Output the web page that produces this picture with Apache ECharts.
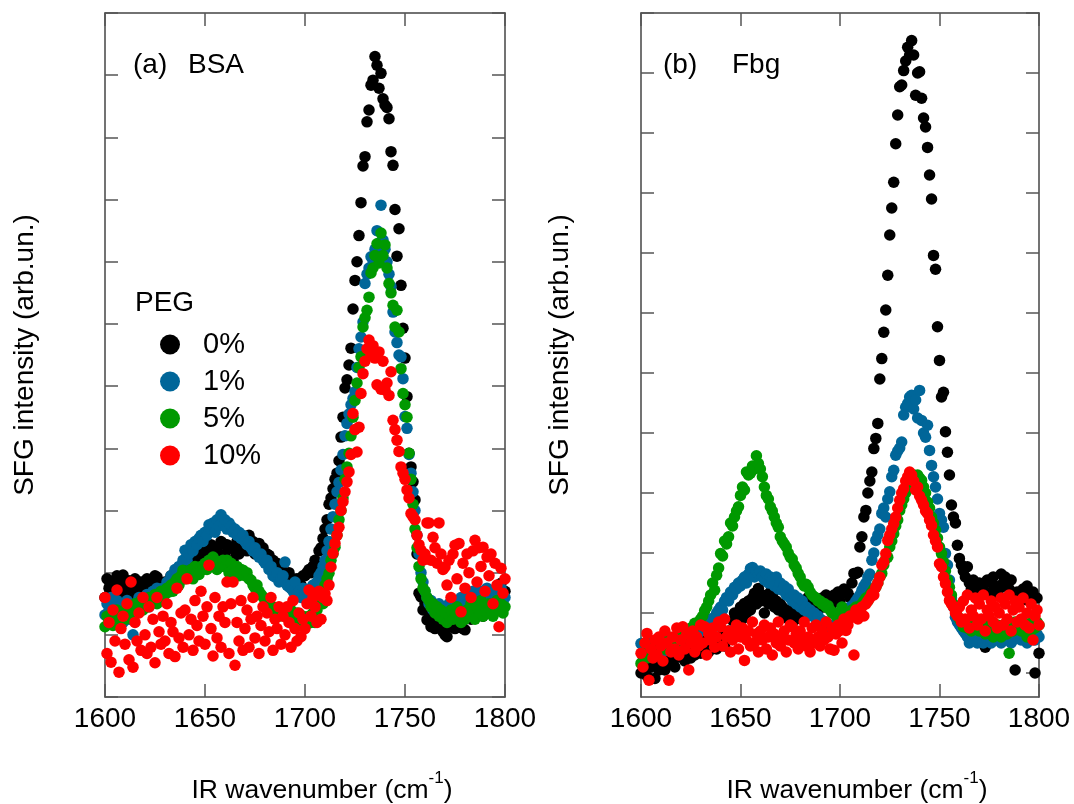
<!DOCTYPE html>
<html>
<head>
<meta charset="utf-8">
<script src="https://cdn.jsdelivr.net/npm/echarts@6/dist/echarts.min.js"></script>
<style>
  html, body { margin: 0; padding: 0; background: #fff; }
  #main { width: 1074px; height: 804px; }
</style>
</head>
<body>
<div id="main"></div>
<script>
(function (echarts) {
  'use strict';

  var FONT = '"Liberation Sans", Arial, Helvetica, sans-serif';

  // IR wavenumber (cm-1), one reading per cm-1
  var wavenumber = [
    1600, 1601, 1602, 1603, 1604, 1605, 1606, 1607, 1608, 1609,
    1610, 1611, 1612, 1613, 1614, 1615, 1616, 1617, 1618, 1619,
    1620, 1621, 1622, 1623, 1624, 1625, 1626, 1627, 1628, 1629,
    1630, 1631, 1632, 1633, 1634, 1635, 1636, 1637, 1638, 1639,
    1640, 1641, 1642, 1643, 1644, 1645, 1646, 1647, 1648, 1649,
    1650, 1651, 1652, 1653, 1654, 1655, 1656, 1657, 1658, 1659,
    1660, 1661, 1662, 1663, 1664, 1665, 1666, 1667, 1668, 1669,
    1670, 1671, 1672, 1673, 1674, 1675, 1676, 1677, 1678, 1679,
    1680, 1681, 1682, 1683, 1684, 1685, 1686, 1687, 1688, 1689,
    1690, 1691, 1692, 1693, 1694, 1695, 1696, 1697, 1698, 1699,
    1700, 1701, 1702, 1703, 1704, 1705, 1706, 1707, 1708, 1709,
    1710, 1711, 1712, 1713, 1714, 1715, 1716, 1717, 1718, 1719,
    1720, 1721, 1722, 1723, 1724, 1725, 1726, 1727, 1728, 1729,
    1730, 1731, 1732, 1733, 1734, 1735, 1736, 1737, 1738, 1739,
    1740, 1741, 1742, 1743, 1744, 1745, 1746, 1747, 1748, 1749,
    1750, 1751, 1752, 1753, 1754, 1755, 1756, 1757, 1758, 1759,
    1760, 1761, 1762, 1763, 1764, 1765, 1766, 1767, 1768, 1769,
    1770, 1771, 1772, 1773, 1774, 1775, 1776, 1777, 1778, 1779,
    1780, 1781, 1782, 1783, 1784, 1785, 1786, 1787, 1788, 1789,
    1790, 1791, 1792, 1793, 1794, 1795, 1796, 1797, 1798, 1799,
    1800
  ];

  var pegLabels = ['0%', '1%', '5%', '10%'];
  var pegColors = ['#000000', '#006699', '#009900', '#ff0000'];

  // (a) BSA
  var bsa0 = [
    1.6, 1.9, 1.75, 1.5, 1.85, 1.7, 1.95, 1.65, 1.8, 1.96,
    1.7, 1.55, 1.87, 1.75, 1.6, 1.9, 1.8, 1.65, 1.85, 1.7,
    1.75, 1.9, 1.8, 1.6, 1.85, 1.95, 1.93, 1.7, 1.8, 1.65,
    1.85, 1.75, 1.85, 1.95, 1.8, 1.9, 2.0, 1.85, 1.95, 2.05,
    1.92, 2.1, 2.25, 2.05, 2.2, 2.3, 2.15, 2.3, 2.25, 2.4,
    2.2, 2.35, 2.3, 2.45, 2.36, 2.2, 2.4, 2.3, 2.5, 2.47,
    2.3, 2.45, 2.15, 2.4, 2.2, 2.35, 2.5, 2.3, 2.4, 2.55,
    2.45, 2.35, 2.6, 2.4, 2.5, 2.3, 2.35, 2.47, 2.25, 2.4,
    2.2, 2.3, 2.28, 2.1, 2.2, 2.0, 2.15, 2.04, 2.1, 1.95,
    2.0, 1.85, 2.0, 1.8, 1.9, 1.75, 1.9, 1.85, 1.8, 1.95,
    1.95, 2.0, 2.05, 2.0, 2.1, 2.2, 2.15, 2.35, 2.4, 2.55,
    2.7, 2.85, 3.1, 3.2, 3.35, 3.5, 3.6, 3.8, 4.18, 4.5,
    4.97, 5.1, 5.34, 5.61, 6.24, 6.7, 7.0, 7.42, 7.95, 8.54,
    8.69, 9.25, 9.44, 9.84, 9.92, 10.3, 10.16, 9.79, 10.03, 9.62,
    9.52, 9.48, 9.3, 8.77, 8.55, 7.84, 7.09, 7.53, 6.62, 5.93,
    5.45, 4.83, 3.92, 3.7, 3.46, 3.17, 2.3, 1.67, 1.61, 1.4,
    1.5, 1.24, 1.27, 1.13, 1.3, 1.1, 1.2, 1.16, 1.3, 1.05,
    1.0, 0.97, 1.15, 1.13, 1.35, 1.1, 1.25, 1.4, 1.2, 1.1,
    1.08, 1.3, 1.45, 1.25, 1.5, 1.35, 1.6, 1.4, 1.55, 1.3,
    1.5, 1.65, 1.56, 1.7, 1.5, 1.6, 1.75, 1.6, 1.83, 1.6,
    1.7
  ];
  var bsa1 = [
    1.32, 1.5, 1.4, 1.6, 1.25, 1.45, 1.55, 1.3, 1.5, 1.2,
    1.4, 1.55, 1.25, 1.45, 1.0, 1.5, 1.35, 1.6, 1.45, 1.55,
    1.5, 1.65, 1.45, 1.6, 1.7, 1.55, 1.75, 1.6, 1.7, 1.75,
    1.7, 1.85, 1.8, 1.95, 1.9, 2.05, 2.0, 2.1, 2.05, 2.2,
    2.36, 2.2, 2.3, 2.45, 2.35, 2.5, 2.45, 2.55, 2.6, 2.5,
    2.65, 2.6, 2.77, 2.7, 2.8, 2.65, 2.85, 2.75, 2.93, 2.8,
    2.85, 2.7, 2.8, 2.75, 2.65, 2.7, 2.6, 2.65, 2.55, 2.6,
    2.5, 2.45, 2.5, 2.4, 2.35, 2.4, 2.3, 2.25, 2.3, 2.2,
    2.15, 2.2, 2.05, 2.1, 1.95, 1.93, 2.0, 1.85, 1.9, 1.95,
    2.17, 1.8, 1.77, 1.75, 1.7, 1.85, 1.65, 1.7, 1.6, 1.75,
    1.65, 1.7, 1.6, 1.75, 1.8, 1.7, 1.85, 1.95, 2.0, 2.1,
    2.2, 2.35, 2.5, 2.7, 2.9, 3.1, 3.3, 3.45, 3.65, 3.9,
    4.2, 4.4, 4.55, 4.7, 4.8, 4.91, 5.3, 5.6, 5.79, 6.03,
    6.65, 6.8, 6.9, 7.08, 7.02, 7.2, 7.5, 7.3, 7.91, 7.35,
    7.2, 7.0, 6.8, 6.6, 6.19, 5.87, 5.7, 5.5, 5.47, 5.12,
    4.51, 4.32, 3.9, 3.6, 3.3, 3.0, 2.6, 2.3, 2.0, 1.85,
    1.7, 1.6, 1.5, 1.55, 1.4, 1.45, 1.35, 1.5, 1.4, 1.3,
    1.45, 1.35, 1.5, 1.3, 1.55, 1.4, 1.5, 1.35, 1.6, 1.45,
    1.5, 1.65, 1.4, 1.55, 1.7, 1.5, 1.6, 1.45, 1.7, 1.55,
    1.6, 1.75, 1.5, 1.65, 1.55, 1.7, 1.45, 1.6, 1.75, 1.5,
    1.6
  ];
  var bsa5 = [
    1.13, 1.3, 1.2, 1.33, 1.15, 1.25, 1.4, 1.2, 1.35, 1.3,
    1.25, 1.45, 1.32, 1.4, 1.3, 1.5, 1.35, 1.45, 1.55, 1.4,
    1.5, 1.45, 1.6, 1.5, 1.55, 1.65, 1.5, 1.6, 1.7, 1.6,
    1.65, 1.75, 1.69, 1.8, 1.7, 1.85, 1.9, 1.8, 1.95, 2.04,
    1.9, 2.0, 1.95, 2.05, 1.9, 2.1, 2.0, 1.97, 2.1, 2.05,
    2.15, 2.05, 2.2, 2.1, 2.25, 2.2, 2.05, 2.15, 2.1, 2.2,
    2.1, 2.2, 2.0, 2.15, 2.05, 2.0, 2.1, 1.95, 2.05, 2.04,
    1.95, 2.0, 1.9, 1.88, 1.8, 1.75, 1.8, 1.7, 1.65, 1.61,
    1.55, 1.5, 1.45, 1.4, 1.45, 1.35, 1.4, 1.3, 1.35, 1.4,
    1.3, 1.35, 1.25, 1.4, 1.3, 1.2, 1.35, 1.29, 1.25, 1.3,
    1.13, 1.25, 1.3, 1.2, 1.35, 1.2, 1.4, 1.5, 1.55, 1.5,
    1.8, 1.9, 1.99, 2.2, 2.3, 2.41, 2.6, 2.85, 3.0, 3.2,
    3.5, 3.7, 3.92, 4.2, 4.5, 4.77, 5.05, 5.3, 5.47, 5.95,
    6.1, 6.22, 6.43, 6.82, 6.9, 7.1, 7.29, 6.98, 7.46, 7.1,
    7.27, 6.9, 6.65, 6.5, 6.3, 5.95, 6.22, 5.87, 5.28, 4.88,
    4.7, 4.5, 3.92, 3.5, 3.1, 2.7, 2.4, 2.1, 1.9, 1.75,
    1.7, 1.6, 1.55, 1.45, 1.5, 1.35, 1.45, 1.3, 1.4, 1.25,
    1.35, 1.2, 1.3, 1.4, 1.25, 1.35, 1.45, 1.3, 1.2, 1.35,
    1.25, 1.4, 1.3, 1.5, 1.35, 1.25, 1.45, 1.4, 1.55, 1.3,
    1.45, 1.35, 1.5, 1.4, 1.3, 1.45, 1.55, 1.4, 1.5, 1.35,
    1.45
  ];
  var bsa10 = [
    1.6, 0.7, 1.2, 0.56, 1.4, 0.9, 1.72, 0.4, 1.1, 1.3,
    0.85, 1.5, 0.6, 1.85, 0.48, 1.2, 0.9, 1.35, 0.75, 1.6,
    1.0, 0.7, 1.45, 0.8, 1.25, 0.55, 1.6, 1.05, 0.85, 1.3,
    0.9, 1.5, 0.7, 1.2, 1.05, 0.65, 1.75, 0.95, 1.35, 0.8,
    1.4, 1.9, 1.0, 1.25, 0.75, 1.55, 1.15, 0.9, 1.7, 1.3,
    0.85, 1.45, 2.12, 1.1, 0.66, 1.6, 0.95, 1.3, 0.8, 1.45,
    1.2, 1.85, 0.7, 1.5, 1.85, 0.51, 1.2, 0.9, 1.55, 0.75,
    1.1, 1.4, 0.8, 1.25, 1.6, 0.95, 1.3, 0.7, 1.15, 1.45,
    0.9, 1.35, 1.05, 1.6, 0.75, 1.25, 1.1, 1.45, 0.85, 1.3,
    1.0, 1.45, 1.2, 0.8, 1.55, 1.1, 0.9, 1.35, 0.97, 1.25,
    1.1, 1.5, 1.72, 1.3, 1.6, 1.45, 1.2, 1.7, 1.25, 1.6,
    1.66, 1.55, 1.8, 2.09, 2.31, 2.47, 2.6, 2.73, 3.0, 3.14,
    3.3, 3.46, 3.62, 3.9, 4.56, 4.3, 3.94, 4.34, 4.88, 5.2,
    5.4, 5.6, 5.74, 5.5, 5.65, 5.45, 5.02, 5.55, 4.95, 5.4,
    4.94, 5.05, 4.85, 5.23, 4.45, 4.3, 4.13, 3.95, 3.7, 3.6,
    3.5, 3.33, 3.2, 2.95, 2.9, 2.85, 2.6, 2.45, 2.36, 2.2,
    2.3, 2.8, 2.8, 2.2, 2.57, 2.4, 2.15, 2.8, 2.3, 2.05,
    2.09, 1.8, 2.2, 1.6, 2.3, 2.44, 1.9, 2.47, 1.37, 2.15,
    1.75, 2.3, 2.0, 1.6, 2.35, 2.52, 1.85, 2.4, 2.1, 2.41,
    1.7, 2.25, 1.95, 2.3, 1.5, 2.15, 1.8, 1.13, 2.07, 1.67,
    1.9
  ];

  // (b) Fbg
  var fbg0 = [
    0.0, 0.2, 0.1, -0.05, 0.25, 0.1, 0.3, -0.09, 0.15, 0.05,
    0.2, 0.35, 0.05, 0.3, 0.15, 0.4, 0.25, 0.1, 0.26, 0.35,
    0.3, 0.45, 0.2, 0.35, 0.5, 0.25, 0.4, 0.3, 0.45, 0.35,
    0.33, 0.5, 0.4, 0.55, 0.35, 0.5, 0.45, 0.6, 0.4, 0.55,
    0.5, 0.65, 0.45, 0.54, 0.7, 0.6, 0.88, 1.0, 0.8, 0.95,
    1.1, 0.9, 1.16, 1.0, 1.2, 1.05, 1.25, 1.33, 1.15, 1.41,
    1.2, 1.3, 1.0, 1.25, 1.16, 1.35, 1.3, 1.1, 1.2, 1.05,
    1.15, 1.1, 0.95, 1.05, 0.9, 1.0, 0.83, 1.1, 0.9, 0.98,
    1.1, 1.05, 1.2, 0.95, 1.26, 1.1, 1.0, 1.15, 1.2, 1.05,
    1.15, 1.25, 1.1, 1.3, 1.26, 1.2, 1.15, 1.3, 1.2, 1.35,
    1.2, 1.33, 1.4, 1.35, 1.33, 1.26, 1.5, 1.66, 1.66, 1.68,
    2.1, 2.27, 2.6, 2.71, 3.0, 3.2, 3.35, 3.74, 3.91, 4.16,
    4.9, 5.24, 5.68, 6.05, 6.63, 7.3, 7.75, 8.18, 8.82, 9.3,
    9.77, 9.8, 10.04, 10.2, 10.43, 10.3, 10.54, 10.3, 9.63, 10.0,
    10.02, 9.58, 9.25, 9.1, 8.76, 8.3, 7.9, 6.96, 6.73, 5.77,
    5.21, 4.6, 4.68, 4.02, 3.68, 3.3, 2.8, 2.6, 2.5, 2.13,
    1.91, 1.8, 1.7, 1.6, 1.77, 1.5, 1.4, 1.55, 1.45, 1.35,
    1.5, 1.3, 1.4, 0.43, 1.55, 1.52, 1.35, 1.6, 1.45, 1.3,
    1.4, 1.65, 1.5, 1.6, 1.52, 1.4, 1.55, 1.3, 0.05, 1.35,
    1.25, 1.21, 1.4, 1.3, 1.45, 1.2, 1.21, 1.35, 0.0, 1.25,
    0.33
  ];
  var fbg1 = [
    0.49, 0.3, 0.45, 0.35, 0.5, 0.4, 0.3, 0.45, 0.55, 0.4,
    0.5, 0.35, 0.45, 0.6, 0.4, 0.5, 0.55, 0.45, 0.6, 0.5,
    0.55, 0.5, 0.65, 0.6, 0.55, 0.7, 0.6, 0.65, 0.75, 0.7,
    0.7, 0.8, 0.75, 0.85, 0.8, 0.9, 0.85, 0.93, 1.0, 1.05,
    1.1, 1.05, 1.2, 1.26, 1.2, 1.35, 1.3, 1.43, 1.4, 1.5,
    1.45, 1.55, 1.6, 1.5, 1.65, 1.74, 1.76, 1.6, 1.7, 1.65,
    1.7, 1.6, 1.55, 1.65, 1.5, 1.6, 1.55, 1.45, 1.6, 1.4,
    1.5, 1.38, 1.45, 1.3, 1.4, 1.25, 1.2, 1.3, 1.15, 1.25,
    1.1, 1.2, 1.05, 1.1, 1.0, 1.05, 0.95, 1.0, 0.9, 0.95,
    0.83, 0.88, 0.8, 0.85, 0.75, 0.8, 0.77, 0.7, 0.71, 0.75,
    0.77, 0.85, 0.9, 0.95, 1.0, 1.1, 1.05, 1.15, 1.2, 1.25,
    1.3, 1.38, 1.45, 1.5, 1.6, 1.65, 1.88, 2.0, 2.21, 2.3,
    2.4, 2.66, 2.75, 2.6, 2.9, 3.02, 3.27, 3.38, 3.63, 3.7,
    3.75, 3.85, 4.3, 4.43, 4.49, 4.6, 4.63, 4.4, 4.55, 4.25,
    4.71, 4.21, 4.0, 3.93, 4.13, 3.71, 3.46, 3.27, 3.1, 2.9,
    2.66, 2.55, 2.43, 1.99, 1.8, 1.55, 1.25, 1.1, 0.93, 0.85,
    0.8, 0.75, 0.7, 0.66, 0.6, 0.5, 0.65, 0.55, 0.6, 0.5,
    0.55, 0.65, 0.5, 0.6, 0.55, 0.7, 0.5, 0.6, 0.65, 0.55,
    0.6, 0.5, 0.7, 0.55, 0.6, 0.65, 0.5, 0.55, 0.7, 0.6,
    0.65, 0.55, 0.7, 0.6, 0.5, 0.65, 0.6, 0.7, 0.55, 0.65,
    0.6
  ];
  var fbg5 = [
    0.16, 0.3, 0.5, 0.25, 0.4, 0.35, 0.45, 0.3, 0.5, 0.4,
    0.45, 0.55, 0.4, 0.5, 0.6, 0.45, 0.55, 0.54, 0.5, 0.65,
    0.6, 0.55, 0.6, 0.7, 0.65, 0.75, 0.7, 0.83, 0.8, 0.85,
    0.9, 0.95, 1.04, 1.1, 1.2, 1.3, 1.5, 1.38, 1.63, 1.75,
    1.99, 1.95, 2.2, 2.15, 2.27, 2.5, 2.45, 2.6, 2.7, 2.77,
    2.96, 3.1, 3.05, 3.35, 3.3, 3.33, 3.45, 3.4, 3.62, 3.49,
    3.4, 3.27, 3.1, 2.96, 2.9, 2.77, 2.7, 2.6, 2.5, 2.43,
    2.27, 2.2, 2.15, 2.1, 2.0, 1.93, 1.9, 1.8, 1.75, 1.66,
    1.6, 1.5, 1.45, 1.48, 1.43, 1.35, 1.3, 1.27, 1.25, 1.2,
    1.2, 1.15, 1.16, 1.1, 1.12, 1.05, 1.0, 1.0, 0.95, 1.0,
    0.9, 1.1, 0.95, 1.0, 0.88, 1.0, 1.05, 1.0, 1.1, 1.05,
    1.1, 1.15, 1.2, 1.25, 1.2, 1.3, 1.35, 1.4, 1.43, 1.5,
    1.6, 1.66, 1.8, 1.9, 1.93, 2.1, 2.2, 2.32, 2.45, 2.55,
    2.71, 2.8, 2.9, 3.0, 3.1, 3.15, 3.25, 3.3, 3.2, 3.3,
    3.25, 3.21, 3.1, 3.0, 2.85, 2.75, 2.6, 2.5, 2.38, 2.25,
    2.1, 1.99, 1.85, 1.7, 1.55, 1.43, 1.3, 1.15, 1.05, 0.95,
    0.9, 0.85, 0.77, 0.85, 0.75, 0.8, 0.7, 0.85, 0.75, 0.8,
    0.7, 0.85, 0.75, 0.65, 0.8, 0.7, 0.85, 0.6, 0.75, 0.8,
    0.7, 0.6, 0.8, 0.75, 0.65, 0.33, 0.8, 0.7, 0.85, 0.75,
    0.8, 0.7, 0.85, 0.75, 0.6, 0.8, 0.7, 0.9, 0.75, 0.85,
    0.8
  ];
  var fbg10 = [
    0.33, 0.1, 0.5, 0.66, -0.12, 0.4, 0.25, 0.55, 0.3, 0.6,
    0.45, 0.2, 0.7, 0.5, -0.12, 0.35, 0.6, 0.4, 0.75, 0.3,
    0.55, 0.77, 0.4, 0.65, 0.05, 0.5, 0.7, 0.35, 0.6, 0.45,
    0.8, 0.5, 0.77, 0.3, 0.65, 0.55, 0.75, 0.43, 0.6, 0.85,
    0.77, 0.45, 0.9, 0.6, 0.7, 0.35, 0.55, 0.66, 0.8, 0.4,
    0.6, 0.75, 0.21, 0.55, 0.7, 0.45, 0.85, 0.5, 0.65, 0.35,
    0.7, 0.55, 0.8, 0.4, 0.6, 0.75, 0.3, 0.65, 0.5, 0.85,
    0.45, 0.6, 0.7, 0.35, 0.55, 0.8, 0.77, 0.5, 0.65, 0.4,
    0.7, 0.55, 0.85, 0.45, 0.6, 0.35, 0.75, 0.5, 0.8, 0.6,
    0.45, 0.7, 0.55, 0.85, 0.6, 0.4, 0.75, 0.38, 0.65, 0.8,
    0.71, 0.5, 0.9, 0.71, 0.8, 0.95, 0.93, 0.3, 1.05, 0.9,
    1.0, 1.1, 0.95, 1.15, 1.2, 1.25, 1.32, 1.3, 1.43, 1.5,
    1.6, 1.8, 1.85, 1.99, 2.21, 2.3, 2.4, 2.49, 2.6, 2.75,
    2.88, 3.0, 3.07, 3.2, 3.27, 3.35, 3.3, 3.2, 3.05, 3.1,
    2.95, 2.88, 2.8, 2.7, 2.66, 2.55, 2.46, 2.3, 2.2, 2.1,
    1.82, 1.77, 1.6, 1.49, 1.35, 1.21, 1.15, 1.1, 1.0, 0.95,
    1.1, 0.85, 1.2, 0.9, 1.3, 0.75, 1.05, 0.95, 1.25, 0.8,
    1.15, 0.9, 1.3, 0.7, 1.05, 0.95, 1.2, 0.85, 1.1, 0.75,
    1.0, 1.25, 0.8, 1.15, 0.9, 1.3, 0.7, 1.05, 1.2, 0.85,
    1.1, 0.9, 1.25, 0.8, 1.0, 0.75, 1.15, 0.55, 0.95, 1.05,
    0.8
  ];

  var bsaSets = [bsa0, bsa1, bsa5, bsa10];
  var fbgSets = [fbg0, fbg1, fbg5, fbg10];
  var fbgTicks = [0, 1, 2, 3, 4, 5, 6, 7, 8, 9, 10, 11];

  function pairs(ys) {
    return wavenumber.map(function (x, i) { return [x, ys[i]]; });
  }

  var frame = {color: '#444', width: 1.5};
  var tick = {show: true, inside: true, length: 13, lineStyle: {color: '#555', width: 1.5}};

  function xAxes(grid) {
    return [{
      type: 'value', gridIndex: grid, position: 'bottom',
      min: 1600, max: 1800, interval: 50,
      axisLine: {show: true, onZero: false, lineStyle: frame},
      axisTick: tick,
      axisLabel: {
        fontSize: 28, fontFamily: FONT, color: '#000', margin: 8,
        formatter: function (v) { return String(v); }
      },
      splitLine: {show: false}
    }, {
      type: 'value', gridIndex: grid, position: 'top',
      min: 1600, max: 1800, interval: 50,
      axisLine: {show: true, onZero: false, lineStyle: frame},
      axisTick: tick,
      axisLabel: {show: false},
      splitLine: {show: false}
    }];
  }

  function yAxes(grid, range, customTicks) {
    return ['left', 'right'].map(function (pos) {
      var t = echarts.util.merge({}, tick);
      if (customTicks) { t.customValues = customTicks; }
      var ax = {
        type: 'value', gridIndex: grid, position: pos,
        min: range[0], max: range[1],
        axisLine: {show: true, onZero: false, lineStyle: frame},
        axisTick: t,
        axisLabel: {show: false},
        splitLine: {show: false}
      };
      if (!customTicks) { ax.interval = 1; }
      return ax;
    });
  }

  var series = [];
  bsaSets.forEach(function (ys, i) {
    series.push({
      name: pegLabels[i], type: 'scatter', xAxisIndex: 0, yAxisIndex: 0,
      symbolSize: 11.5, itemStyle: {color: pegColors[i], opacity: 1},
      data: pairs(ys)
    });
  });
  fbgSets.forEach(function (ys, i) {
    series.push({
      name: pegLabels[i], type: 'scatter', xAxisIndex: 2, yAxisIndex: 2,
      symbolSize: 11.5, itemStyle: {color: pegColors[i], opacity: 1},
      data: pairs(ys)
    });
  });

  function label(text, x, y, size) {
    return {
      type: 'text', x: x, y: y, silent: true,
      style: {text: text, fontSize: size || 28, fontFamily: FONT, fill: '#000', verticalAlign: 'middle'}
    };
  }

  function yTitle(x) {
    return {
      type: 'text', x: x, y: 355, rotation: Math.PI / 2, silent: true,
      style: {
        text: 'SFG intensity (arb.un.)', fontSize: 28, fontFamily: FONT, fill: '#000',
        align: 'center', verticalAlign: 'middle'
      }
    };
  }

  function xTitle(x) {
    return {
      type: 'text', x: x, y: 787, silent: true,
      style: {
        text: '{a|IR wavenumber (cm}{s|-1}{a|)}',
        align: 'center', verticalAlign: 'middle', fill: '#000',
        rich: {
          a: {fontSize: 26.5, fontFamily: FONT, lineHeight: 34, verticalAlign: 'bottom'},
          s: {fontSize: 17, fontFamily: FONT, lineHeight: 18, verticalAlign: 'top'}
        }
      }
    };
  }

  echarts.init(document.getElementById('main')).setOption({
    animation: false,
    backgroundColor: '#fff',
    grid: [
      {left: 105, top: 13, width: 400, height: 684},
      {left: 641, top: 13, width: 398, height: 684}
    ],
    xAxis: xAxes(0).concat(xAxes(1)),
    yAxis: yAxes(0, [0, 11]).concat(yAxes(1, [-0.4, 11], fbgTicks)),
    legend: {
      data: pegLabels,
      orient: 'vertical',
      left: 155, top: 325,
      itemWidth: 20, itemHeight: 20, itemGap: 8,
      icon: 'circle',
      selectedMode: false,
      textStyle: {fontSize: 29, fontFamily: FONT, color: '#000', lineHeight: 24, padding: [0, 0, 0, 18]}
    },
    graphic: [
      label('(a)', 133, 65), label('BSA', 188, 65),
      label('(b)', 663, 65), label('Fbg', 732, 65),
      label('PEG', 135, 303),
      yTitle(25), yTitle(560),
      xTitle(322), xTitle(857)
    ],
    series: series
  });
})(window.echarts);
</script>
</body>
</html>
